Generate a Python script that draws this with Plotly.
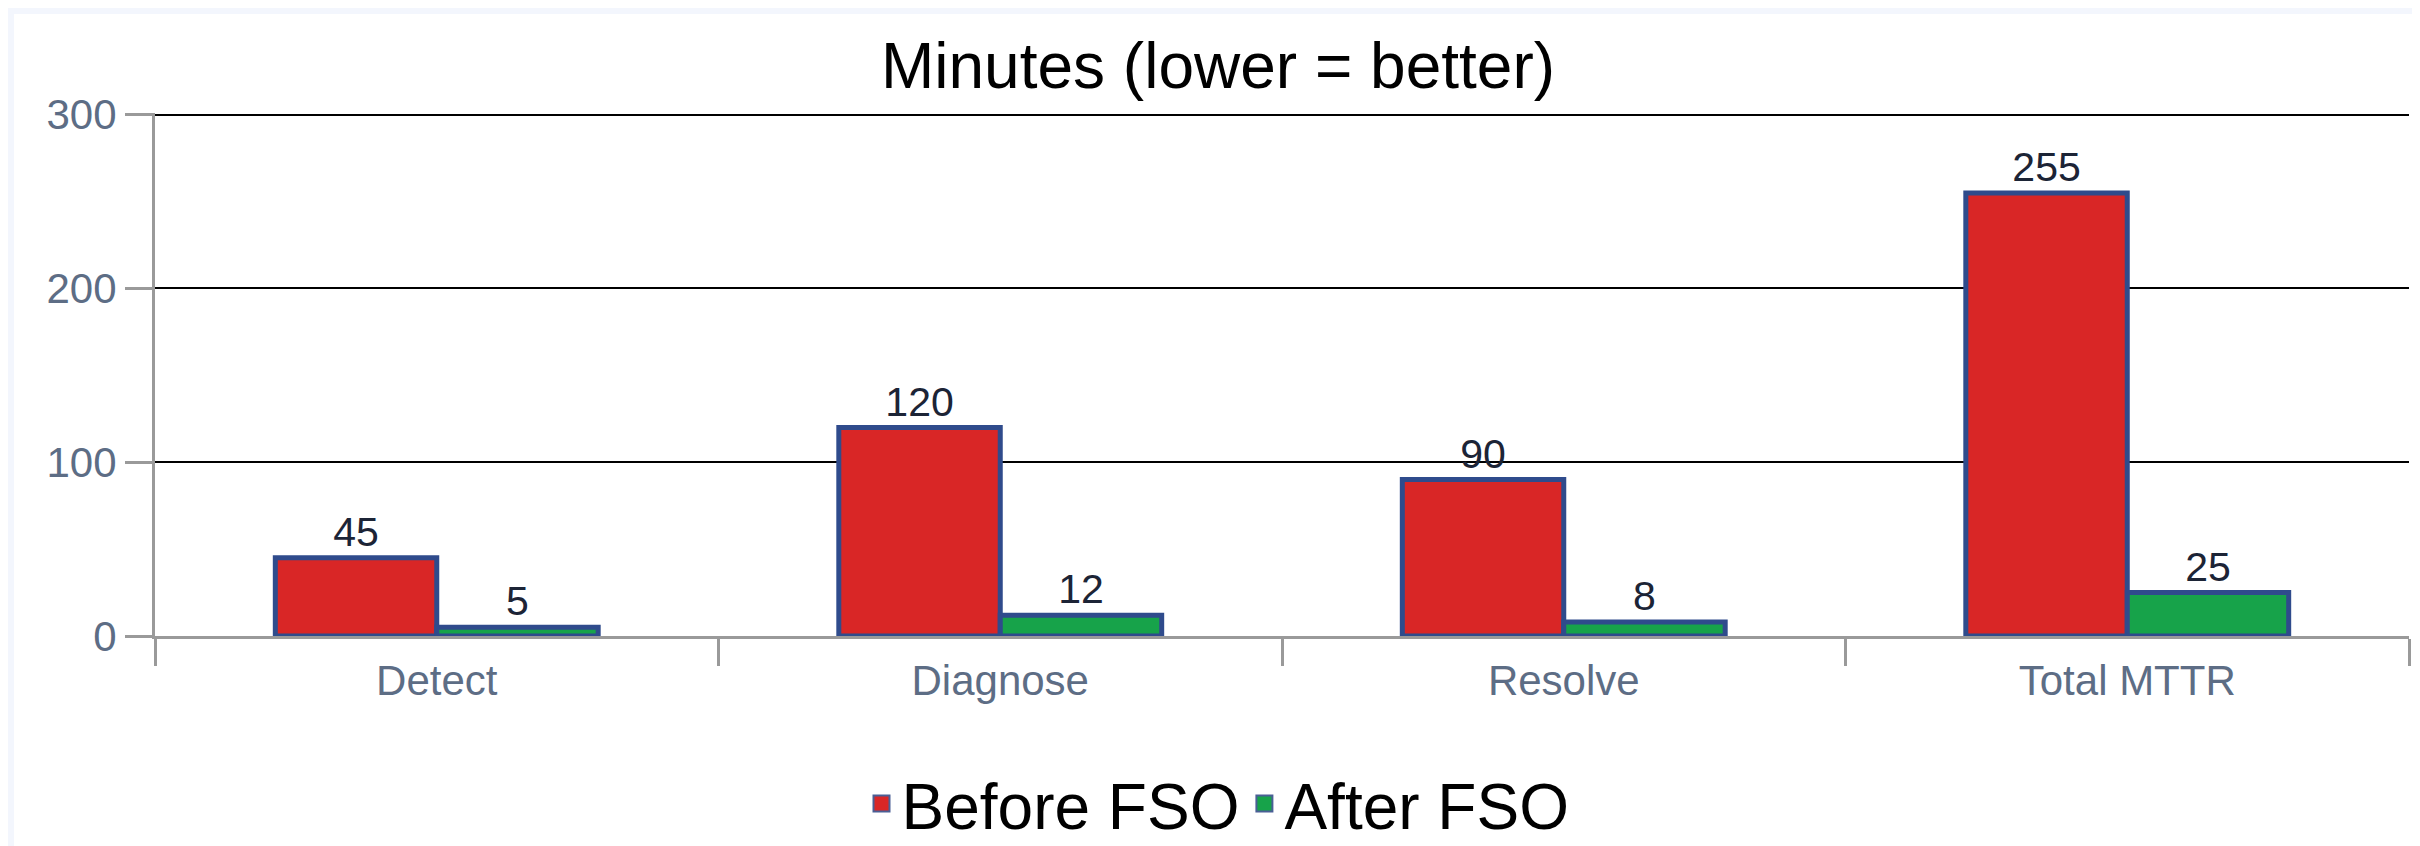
import plotly.graph_objects as go

categories = ["Detect", "Diagnose", "Resolve", "Total MTTR"]
before_fso = [45, 120, 90, 255]
after_fso = [5, 12, 8, 25]
series_names = ["Before FSO", "After FSO"]
series_colors = ["#d92626", "#17a34a"]
y_ticks = [0, 100, 200, 300]

W, H = 2420, 846
FONT = "Liberation Sans, Arial, Helvetica, sans-serif"
OUTLINE = "#2f4b8c"

# plot area in pixels
L, R, T, B = 147, 2401, 105, 628
PW, PH = R - L, B - T


def px_x(x):
    return (x - L) / PW


def px_y(y):
    return (B - y) / PH


fig = go.Figure()
for name, vals, col in zip(series_names, [before_fso, after_fso], series_colors):
    fig.add_trace(go.Bar(
        x=categories, y=vals, name=name, showlegend=False,
        marker=dict(color=col, line=dict(color=OUTLINE, width=5)),
        text=[str(v) for v in vals], textposition="outside",
        textfont=dict(size=41, color="#1c2436", family=FONT), cliponaxis=False,
    ))
# legend entries (square swatches)
for name, col in zip(series_names, series_colors):
    fig.add_trace(go.Scatter(
        x=[None], y=[None], name=name, mode="markers",
        marker=dict(symbol="square", size=16, color=col,
                    line=dict(color="#4a5f95", width=2)),
    ))

fig.update_layout(
    width=W, height=H,
    paper_bgcolor="#f3f6fd", plot_bgcolor="#ffffff",
    font=dict(family=FONT),
    margin=dict(l=L, r=W - R, t=T, b=H - B),
    barmode="group", bargap=0.427, bargroupgap=0,
    title=dict(text="Minutes (lower = better)", x=0.5, xanchor="center",
               y=1 - 58 / H, yanchor="middle",
               font=dict(size=64, color="#000000", family=FONT)),
    legend=dict(orientation="h", xref="container", yref="container",
                x=0.5, xanchor="center", y=1 - 796 / H, yanchor="middle",
                font=dict(size=64, color="#000000", family=FONT),
                bgcolor="rgba(0,0,0,0)", itemwidth=30, itemsizing="trace",
                tracegroupgap=0),
    xaxis=dict(showgrid=False, showline=True, linecolor="#9a9a9a", linewidth=3,
               ticks="outside", tickson="boundaries", ticklen=27, tickwidth=3,
               tickcolor="#9a9a9a", ticklabelstandoff=6,
               tickfont=dict(size=42, color="#5d6d85", family=FONT)),
    yaxis=dict(range=[0, 301], tickvals=y_ticks, showgrid=True,
               gridcolor="#000000", gridwidth=2, zeroline=False,
               showline=True, linecolor="#9a9a9a", linewidth=3,
               ticks="outside", ticklen=27, tickwidth=3, tickcolor="#9a9a9a",
               tickfont=dict(size=42, color="#5d6d85", family=FONT)),
    shapes=[dict(type="rect", xref="paper", yref="paper", layer="below",
                 x0=px_x(6), x1=px_x(2415), y0=px_y(840), y1=px_y(6),
                 fillcolor="#ffffff", line=dict(width=0))],
)

fig.write_html("out.html")
